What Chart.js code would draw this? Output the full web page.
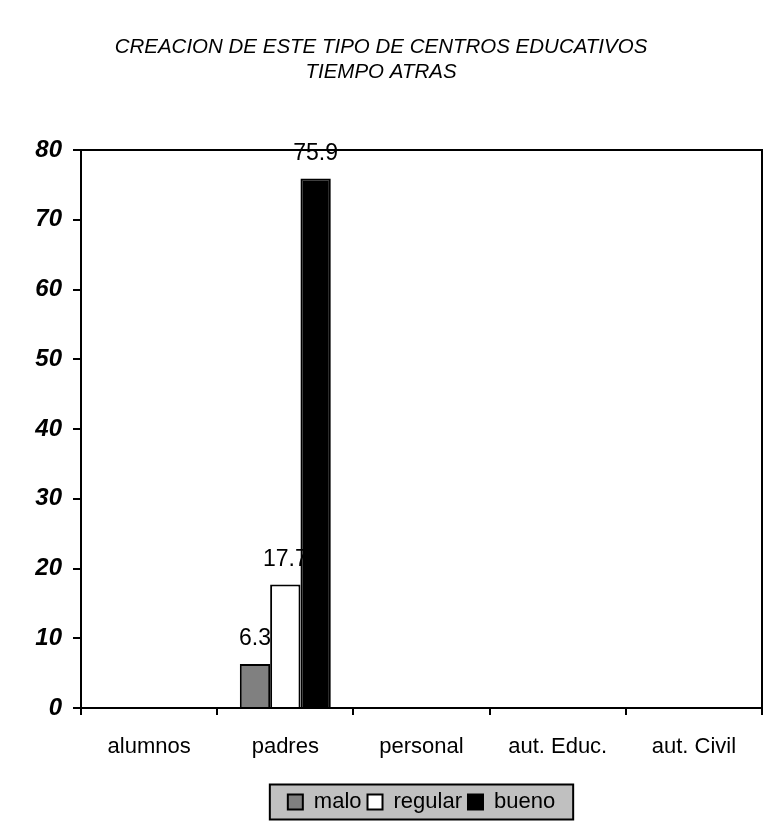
<!DOCTYPE html>
<html>
<head>
<meta charset="utf-8">
<script src="https://cdn.jsdelivr.net/npm/chart.js@4/dist/chart.umd.min.js"></script>
<style>
  html, body { margin: 0; padding: 0; background: #ffffff; }
  #wrap { width: 772px; height: 824px; position: relative; }
</style>
</head>
<body>
<div id="wrap"><canvas id="c" width="772" height="824"></canvas></div>
<script>
// ---- data ----
const titleLines = ['CREACION DE ESTE TIPO DE CENTROS EDUCATIVOS', 'TIEMPO ATRAS'];
const categories = ['alumnos', 'padres', 'personal', 'aut. Educ.', 'aut. Civil'];
const seriesNames = ['malo', 'regular', 'bueno'];
const maloValues = [null, 6.3, null, null, null];
const regularValues = [null, 17.7, null, null, null];
const buenoValues = [null, 75.9, null, null, null];
const yTicks = [0, 10, 20, 30, 40, 50, 60, 70, 80];

const FONT = "Arial, 'Liberation Sans', sans-serif";

// plot box frame (top + right) to close the area
const frame = {
  id: 'frame',
  afterDraw(chart) {
    const a = chart.chartArea, ctx = chart.ctx;
    ctx.save();
    ctx.strokeStyle = '#000';
    ctx.lineWidth = 2;
    ctx.beginPath();
    ctx.moveTo(a.left, a.top);
    ctx.lineTo(a.right, a.top);
    ctx.lineTo(a.right, a.bottom);
    ctx.stroke();
    ctx.restore();
  }
};

// value labels drawn before the bars, so neighbouring bars may cover them
const valueLabels = {
  id: 'valueLabels',
  beforeDatasetsDraw(chart) {
    const ctx = chart.ctx;
    ctx.save();
    ctx.font = '23px ' + FONT;
    ctx.fillStyle = '#000';
    ctx.textAlign = 'center';
    ctx.textBaseline = 'alphabetic';
    chart.data.datasets.forEach((ds, di) => {
      const meta = chart.getDatasetMeta(di);
      meta.data.forEach((bar, i) => {
        const v = ds.data[i];
        if (v === null || v === undefined) return;
        ctx.fillText(String(v), bar.x, bar.y - 19);
      });
    });
    ctx.restore();
  }
};

// grey background box behind the legend
const legendBox = {
  id: 'legendBox',
  beforeDraw(chart) {
    const lg = chart.legend;
    if (!lg || !lg.legendHitBoxes || !lg.legendHitBoxes.length) return;
    const hb = lg.legendHitBoxes;
    const first = hb[0], last = hb[hb.length - 1];
    const x0 = first.left - 18;
    const x1 = last.left + last.width + 18;
    const cy = first.top + first.height / 2;
    const ctx = chart.ctx;
    ctx.save();
    ctx.fillStyle = '#c0c0c0';
    ctx.strokeStyle = '#000';
    ctx.lineWidth = 2;
    ctx.fillRect(x0, cy - 17.5, x1 - x0, 35);
    ctx.strokeRect(x0, cy - 17.5, x1 - x0, 35);
    ctx.restore();
  }
};

new Chart(document.getElementById('c'), {
  type: 'bar',
  data: {
    labels: categories,
    datasets: [
      { label: seriesNames[0], data: maloValues, backgroundColor: '#808080', borderColor: '#000', borderWidth: 2 },
      { label: seriesNames[1], data: regularValues, backgroundColor: '#ffffff', borderColor: '#000', borderWidth: 2 },
      { label: seriesNames[2], data: buenoValues, backgroundColor: '#000000', borderColor: '#000', borderWidth: 2 }
    ]
  },
  options: {
    responsive: false,
    animation: false,
    devicePixelRatio: 1,
    layout: { padding: { left: 0, right: 10, top: 0, bottom: 1 } },
    datasets: { bar: { categoryPercentage: 0.668, barPercentage: 1.0, grouped: true } },
    plugins: {
      title: {
        display: true,
        text: titleLines,
        color: '#000',
        font: { family: FONT, size: 20.5, style: 'italic', weight: 'normal', lineHeight: 1.22 },
        padding: { top: 35, bottom: 65 }
      },
      legend: {
        display: true,
        position: 'bottom',
        fullSize: false,
        labels: {
          color: '#000',
          font: { family: FONT, size: 22 },
          boxWidth: 15,
          boxHeight: 15,
          padding: 6
        }
      },
      tooltip: { enabled: false }
    },
    scales: {
      x: {
        offset: true,
        grid: { display: true, offset: true, drawOnChartArea: false, drawTicks: true, tickLength: 7, color: '#000', lineWidth: 2 },
        border: { display: true, color: '#000', width: 2 },
        ticks: { color: '#000', font: { family: FONT, size: 22 }, padding: 19, maxRotation: 0, autoSkip: false },
        afterFit(scale) { scale.height = 77; }
      },
      y: {
        min: 0,
        max: 80,
        afterBuildTicks(scale) { scale.ticks = yTicks.map(v => ({ value: v })); },
        grid: { display: true, drawOnChartArea: false, drawTicks: true, tickLength: 8, color: '#000', lineWidth: 2 },
        border: { display: true, color: '#000', width: 2 },
        ticks: { color: '#000', font: { family: FONT, size: 24, style: 'italic', weight: 'bold' }, padding: 11 },
        afterFit(scale) { scale.width = 81; }
      }
    }
  },
  plugins: [legendBox, valueLabels, frame]
});
</script>
</body>
</html>
